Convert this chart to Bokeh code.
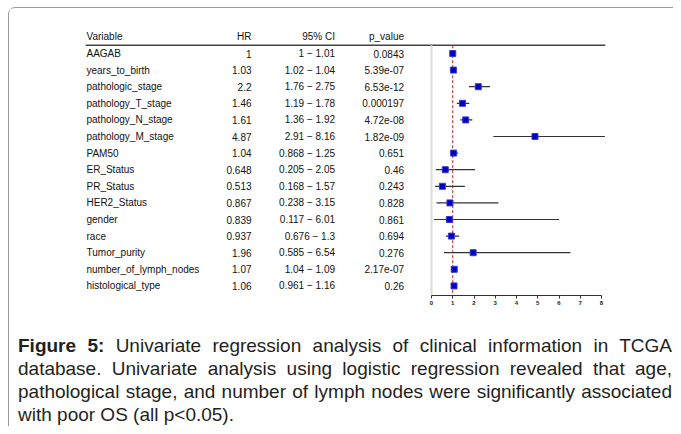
from bokeh.plotting import figure
from bokeh.models import Range1d, FixedTicker, ColumnDataSource, Div
from bokeh.layouts import column
from bokeh.core.properties import value
from bokeh.embed import file_html
from bokeh.resources import INLINE

# ---------------- data ----------------
variables = ["AAGAB", "years_to_birth", "pathologic_stage", "pathology_T_stage",
             "pathology_N_stage", "pathology_M_stage", "PAM50", "ER_Status",
             "PR_Status", "HER2_Status", "gender", "race", "Tumor_purity",
             "number_of_lymph_nodes", "histological_type"]
hr = [1, 1.03, 2.2, 1.46, 1.61, 4.87, 1.04, 0.648, 0.513, 0.867, 0.839, 0.937, 1.96, 1.07, 1.06]
ci_lower = [1, 1.02, 1.76, 1.19, 1.36, 2.91, 0.868, 0.205, 0.168, 0.238, 0.117, 0.676, 0.585, 1.04, 0.961]
ci_upper = [1.01, 1.04, 2.75, 1.78, 1.92, 8.16, 1.25, 2.05, 1.57, 3.15, 6.01, 1.3, 6.54, 1.09, 1.16]
p_values = ["0.0843", "5.39e-07", "6.53e-12", "0.000197", "4.72e-08", "1.82e-09", "0.651",
            "0.46", "0.243", "0.828", "0.861", "0.694", "0.276", "2.17e-07", "0.26"]
headers = ["Variable", "HR", "95% CI", "p_value"]
x_ticks = [0, 1, 2, 3, 4, 5, 6, 7, 8]
caption_bold = "Figure 5:"
caption_text = ("Univariate regression analysis of clinical information in TCGA database. "
                "Univariate analysis using logistic regression revealed that age, pathological "
                "stage, and number of lymph nodes were significantly associated with poor OS "
                "(all p<0.05).")

rows = list(range(len(variables)))
hr_labels = [format(v, "g") for v in hr]
ci_labels = [f"{format(a, 'g')} \u2212 {format(b, 'g')}" for a, b in zip(ci_lower, ci_upper)]

src = ColumnDataSource(dict(row=rows, var=variables, hr=hr, lo=ci_lower, hi=ci_upper,
                            hr_lab=hr_labels, ci_lab=ci_labels, p=p_values))

# ---------------- layout helpers (page pixel -> data) ----------------
PX0 = 431.0      # page x of HR = 0
PX_PER = 21.25   # page px per HR unit
def dx(px):
    return (px - PX0) / PX_PER

ROW0 = 54.0      # page y of first row
ROW_H = 16.6
def dy(py):
    return (py - ROW0) / ROW_H

FIG_TOP = 9
frame_top, frame_bottom = 24, 296
frame_left, frame_right = 85, 605

p = figure(width=664, height=311, output_backend="svg", toolbar_location=None,
           x_range=Range1d(dx(frame_left), dx(frame_right)),
           y_range=Range1d(dy(frame_bottom), dy(frame_top)),
           min_border_left=frame_left - FIG_TOP, min_border_right=673 - frame_right,
           min_border_top=frame_top - FIG_TOP, min_border_bottom=24)
p.outline_line_color = None
p.xgrid.visible = False
p.ygrid.visible = False
p.yaxis.visible = False

font = value("Liberation Sans")
fs = "10px"
col_x = {"var": dx(86), "hr": dx(251), "ci": dx(334.5), "p": dx(403.5)}

# header
hdr_src = ColumnDataSource(dict(x=[col_x["var"], col_x["hr"], col_x["ci"], col_x["p"]],
                                y=[-1] * 4, t=headers,
                                a=["left", "right", "right", "right"]))
p.text(x="x", y="y", text="t", text_align="a", text_baseline="middle",
       text_font=font, text_font_size=fs, text_color="#111111", source=hdr_src)
p.segment(x0=dx(frame_left), y0=-0.5, x1=dx(frame_right), y1=-0.5,
          line_color="#444444", line_width=1.5)

# table columns
p.text(x=col_x["var"], y="row", text="var", text_align="left", text_baseline="middle",
       text_font=font, text_font_size=fs, text_color="#111111", source=src)
p.text(x=col_x["hr"], y="row", text="hr_lab", text_align="right", text_baseline="middle",
       text_font=font, text_font_size=fs, text_color="#111111", source=src)
p.text(x=col_x["ci"], y="row", text="ci_lab", text_align="right", text_baseline="middle",
       text_font=font, text_font_size=fs, text_color="#111111", source=src)
p.text(x=col_x["p"], y="row", text="p", text_align="right", text_baseline="middle",
       text_font=font, text_font_size=fs, text_color="#111111", source=src)

# forest plot
bottom = dy(frame_bottom)
p.segment(x0=0, y0=-0.5, x1=0, y1=bottom, line_color="#dcdcdc", line_width=2)
p.segment(x0=1, y0=-0.5, x1=1, y1=bottom, line_color="#b22222", line_width=1,
          line_dash="3 2")
p.segment(x0="lo", y0="row", x1="hi", y1="row", line_color="#333333", line_width=1.2,
          source=src)
p.scatter(x="hr", y="row", marker="square", size=6, fill_color="#0000c0",
          line_color="#3a3ad6", line_width=1, source=src)

ax = p.xaxis[0]
ax.bounds = (x_ticks[0], x_ticks[-1])
ax.ticker = FixedTicker(ticks=x_ticks)
ax.minor_tick_line_color = None
ax.major_tick_in = 0
ax.major_tick_out = 3
ax.axis_line_color = "#333333"
ax.major_tick_line_color = "#333333"
ax.major_label_text_font = "Liberation Sans"
ax.major_label_text_font_size = "6px"
ax.major_label_text_font_style = "bold"
ax.major_label_text_color = "#222222"
ax.major_label_standoff = 2

cap = Div(text=f"<b>{caption_bold}</b> {caption_text}", width=654, margin=(15, 0, 0, 9),
          styles={"font-family": "'Liberation Sans', Arial, sans-serif", "font-size": "19px",
                  "line-height": "23px", "text-align": "justify", "color": "#231f20"})

layout = column(p, cap, margin=(7, 0, 0, 8),
                styles={"border-left": "1px solid #9a9a9a",
                        "border-top": "1px solid #9a9a9a",
                        "border-top-left-radius": "7px"})

open("out.html", "w").write(file_html(layout, INLINE))
